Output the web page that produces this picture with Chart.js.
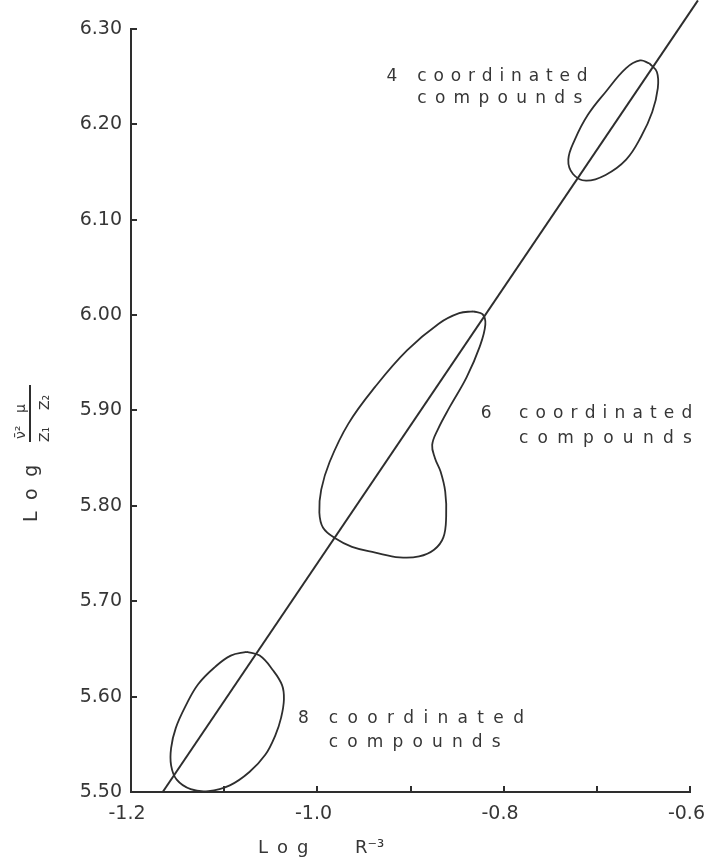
<!DOCTYPE html>
<html>
<head>
<meta charset="UTF-8">
<script src="https://cdn.jsdelivr.net/npm/chart.js@4.4.0/dist/chart.umd.min.js"></script>
<style>
  html, body { margin: 0; padding: 0; background: #fff; }
  #wrap { width: 720px; height: 858px; }
</style>
</head>
<body>
<div id="wrap"><canvas id="chart" width="720" height="858"></canvas></div>
<script>
// --- data ---
var xTickValues = [-1.2, -1.1, -1.0, -0.9, -0.8, -0.7, -0.6];
var xTickLabels = ['-1.2', '', '-1.0', '', '-0.8', '', '-0.6'];
var yTickValues = [5.5, 5.6, 5.7, 5.8, 5.9, 6.0, 6.1, 6.2, 6.3];
var yTickLabels = ['5.50', '5.60', '5.70', '5.80', '5.90', '6.00', '6.10', '6.20', '6.30'];

// regression line
var fitX = [-1.166, -0.592];
var fitY = [5.500, 6.330];

// 8 coordinated compounds (closed outline)
var group8X = [-1.076, -1.062, -1.048, -1.038, -1.036, -1.039, -1.045, -1.056, -1.073, -1.094, -1.117, -1.136, -1.151, -1.157, -1.157, -1.152, -1.141, -1.128, -1.110, -1.093, -1.076];
var group8Y = [5.647, 5.643, 5.628, 5.612, 5.597, 5.578, 5.560, 5.539, 5.521, 5.507, 5.501, 5.503, 5.513, 5.528, 5.546, 5.567, 5.591, 5.613, 5.631, 5.643, 5.647];

// 6 coordinated compounds
var group6X = [-0.833, -0.823, -0.820, -0.826, -0.840, -0.858, -0.871, -0.877, -0.874, -0.868, -0.863, -0.862, -0.865, -0.875, -0.891, -0.912, -0.938, -0.963, -0.981, -0.994, -0.998, -0.996, -0.987, -0.967, -0.938, -0.904, -0.870, -0.848, -0.833];
var group6Y = [6.004, 6.001, 5.990, 5.967, 5.935, 5.904, 5.880, 5.864, 5.850, 5.836, 5.815, 5.789, 5.767, 5.754, 5.747, 5.746, 5.751, 5.757, 5.766, 5.777, 5.793, 5.817, 5.846, 5.886, 5.925, 5.963, 5.991, 6.002, 6.004];

// 4 coordinated compounds
var group4X = [-0.644, -0.636, -0.635, -0.641, -0.653, -0.669, -0.691, -0.712, -0.726, -0.731, -0.724, -0.710, -0.691, -0.669, -0.654, -0.644];
var group4Y = [6.264, 6.255, 6.238, 6.213, 6.187, 6.163, 6.147, 6.141, 6.148, 6.163, 6.184, 6.210, 6.234, 6.259, 6.267, 6.264];

// labels next to each group
var noteNumbers = ['4', '6', '8'];
var noteLine1 = 'coordinated';
var noteLine2 = 'compounds';

var ink = '#2e2e2e';
var textInk = '#363636';
var fontFamily = '"DejaVu Sans", sans-serif';

function toPoints(xs, ys) {
  return xs.map(function (x, i) { return { x: x, y: ys[i] }; });
}

// note placement (data coords for anchor, px for spread width)
var notes = [
  { num: noteNumbers[0], numX: -0.926, textX: -0.893, y1: 6.246, y2: 6.222, w1: 170, w2: 165 },
  { num: noteNumbers[1], numX: -0.825, textX: -0.784, y1: 5.892, y2: 5.866, w1: 173, w2: 173 },
  { num: noteNumbers[2], numX: -1.021, textX: -0.988, y1: 5.572, y2: 5.547, w1: 195, w2: 172 }
];

// 文字間隔を広げて描く
function spacedText(ctx, str, x, y, width) {
  var chars = Array.from(str);
  var w = ctx.measureText(str).width;
  var gap = chars.length > 1 ? (width - w) / (chars.length - 1) : 0;
  var cx = x;
  chars.forEach(function (ch) {
    ctx.fillText(ch, cx, y);
    cx += ctx.measureText(ch).width + gap;
  });
}

var decor = {
  id: 'decor',
  afterDraw: function (chart) {
    var ctx = chart.ctx;
    var xs = chart.scales.x, ys = chart.scales.y;
    var area = chart.chartArea;
    ctx.save();

    // inward tick marks
    ctx.strokeStyle = ink;
    ctx.lineWidth = 2;
    ctx.beginPath();
    xTickValues.forEach(function (v) {
      if (v === xTickValues[0]) return;
      var px = Math.round(xs.getPixelForValue(v));
      ctx.moveTo(px, area.bottom);
      ctx.lineTo(px, area.bottom - 6);
    });
    yTickValues.forEach(function (v) {
      if (v === yTickValues[0]) return;
      var py = Math.round(ys.getPixelForValue(v));
      ctx.moveTo(area.left, py);
      ctx.lineTo(area.left + 6, py);
    });
    ctx.stroke();

    // group labels
    ctx.fillStyle = textInk;
    ctx.font = '17px ' + fontFamily;
    ctx.textBaseline = 'alphabetic';
    ctx.textAlign = 'left';
    notes.forEach(function (n) {
      ctx.fillText(n.num, xs.getPixelForValue(n.numX), ys.getPixelForValue(n.y1));
      spacedText(ctx, noteLine1, xs.getPixelForValue(n.textX), ys.getPixelForValue(n.y1), n.w1);
      spacedText(ctx, noteLine2, xs.getPixelForValue(n.textX), ys.getPixelForValue(n.y2), n.w2);
    });

    // x axis title
    ctx.font = '18px ' + fontFamily;
    spacedText(ctx, 'Log', 258, 853, 50);
    ctx.fillText('R⁻³', 355, 853);

    // y axis title (rotated)
    ctx.translate(37, 522);
    ctx.rotate(-Math.PI / 2);
    ctx.font = '19px ' + fontFamily;
    spacedText(ctx, 'Log', 0, 0, 57);
    ctx.beginPath();
    ctx.moveTo(80, -7);
    ctx.lineTo(137, -7);
    ctx.lineWidth = 2;
    ctx.stroke();
    ctx.font = '14px ' + fontFamily;
    ctx.fillText('ν̄²', 83, -12);
    ctx.fillText('μ', 109, -12);
    ctx.fillText('Z₁', 80, 12);
    ctx.fillText('Z₂', 112, 12);

    ctx.restore();
  }
};

var outline = {
  showLine: true,
  pointRadius: 0,
  borderColor: ink,
  borderWidth: 1.8,
  tension: 0.4,
  fill: false,
  clip: false
};

new Chart(document.getElementById('chart'), {
  type: 'scatter',
  data: {
    datasets: [
      Object.assign({}, outline, { label: 'fit', data: toPoints(fitX, fitY), tension: 0, borderWidth: 2 }),
      Object.assign({}, outline, { label: '8', data: toPoints(group8X, group8Y) }),
      Object.assign({}, outline, { label: '6', data: toPoints(group6X, group6Y) }),
      Object.assign({}, outline, { label: '4', data: toPoints(group4X, group4Y) })
    ]
  },
  options: {
    responsive: false,
    animation: false,
    devicePixelRatio: 1,
    layout: { padding: { left: 0, top: 29, right: 19, bottom: 0 } },
    plugins: {
      legend: { display: false },
      tooltip: { enabled: false }
    },
    scales: {
      x: {
        type: 'linear',
        min: -1.2,
        max: -0.6,
        grid: { display: false, drawTicks: false },
        border: { display: true, color: ink, width: 2 },
        afterBuildTicks: function (s) { s.ticks = xTickValues.map(function (v) { return { value: v }; }); },
        afterFit: function (s) { s.height = 66; },
        ticks: {
          autoSkip: false,
          maxRotation: 0,
          padding: 11,
          labelOffset: -4,
          color: textInk,
          font: { family: fontFamily, size: 19 },
          callback: function (v, i) { return xTickLabels[i]; }
        }
      },
      y: {
        type: 'linear',
        min: 5.5,
        max: 6.3,
        grid: { display: false, drawTicks: false },
        border: { display: true, color: ink, width: 2 },
        afterBuildTicks: function (s) { s.ticks = yTickValues.map(function (v) { return { value: v }; }); },
        afterFit: function (s) { s.width = 131; },
        ticks: {
          autoSkip: false,
          padding: 9,
          color: textInk,
          font: { family: fontFamily, size: 19 },
          callback: function (v, i) { return yTickLabels[i]; }
        }
      }
    }
  },
  plugins: [decor]
});
</script>
</body>
</html>
